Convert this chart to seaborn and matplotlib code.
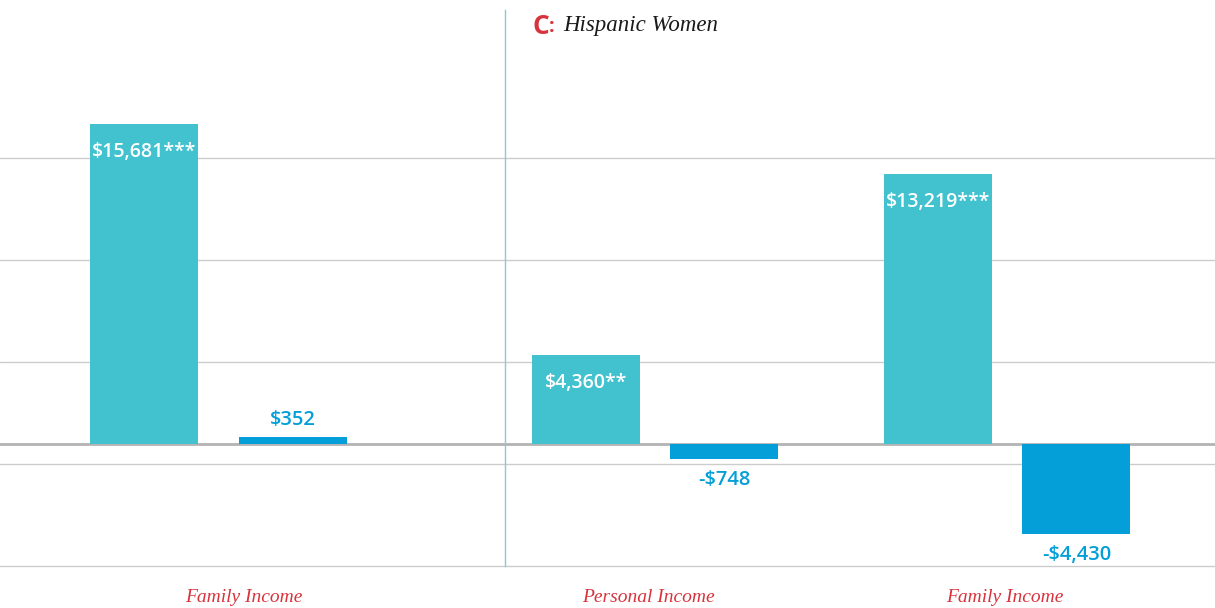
import numpy as np
import matplotlib
matplotlib.use("Agg")
import matplotlib.pyplot as plt
import matplotlib.transforms as mtrans
import pandas as pd
import seaborn as sns

# data
left_categories = ["Family Income"]
right_categories = ["Personal Income", "Family Income"]
series = ["first", "second"]
left_values = [[15681, 352]]
right_values = [[4360, -748], [13219, -4430]]
left_labels = [["$15,681***", "$352"]]
right_labels = [["$4,360**", "-$748"], ["$13,219***", "-$4,430"]]
grid_values = [-6000, -1000, 4000, 9000, 14000]

TEAL = "#42c2ce"
BLUE = "#049fd8"
RED = "#d8333c"
palette = {"first": TEAL, "second": BLUE}


def to_frame(categories, values):
    rows = []
    for cat, vals in zip(categories, values):
        for s, v in zip(series, vals):
            rows.append({"category": cat, "series": s, "value": v})
    return pd.DataFrame(rows)


def draw_panel(ax, categories, values, labels, xlim, width, gap, label_shift):
    df = to_frame(categories, values)
    ax.set_axisbelow(True)
    ax.set_yticks(grid_values)
    ax.yaxis.grid(True, color="#cccccc", lw=1)
    ax.xaxis.grid(False)
    ax.axhline(0, color="#b3b3b3", lw=2, zorder=0.5)
    sns.barplot(data=df, x="category", y="value", hue="series", order=categories,
                hue_order=series, palette=palette, width=width, gap=gap,
                saturation=1, legend=False, ax=ax, zorder=2, linewidth=0)
    for si, cont in enumerate(ax.containers):
        for ci, bar in enumerate(cont):
            v = values[ci][si]
            txt = labels[ci][si]
            xc = bar.get_x() + bar.get_width() / 2
            if si == 0:
                ax.annotate(txt, (xc, v), xytext=(0, -20), textcoords="offset points",
                            ha="center", va="center", color="white", fontsize=14,
                            fontweight="semibold", family="Open Sans", zorder=3)
            elif v >= 0:
                ax.annotate(txt, (xc, v), xytext=(0, 5), textcoords="offset points",
                            ha="center", va="bottom", color=BLUE, fontsize=14.5,
                            fontweight="semibold", family="Open Sans", zorder=3)
            else:
                ax.annotate(txt, (xc, v), xytext=(0, -8), textcoords="offset points",
                            ha="center", va="top", color=BLUE, fontsize=14.5,
                            fontweight="semibold", family="Open Sans", zorder=3)
    ax.set_xlim(*xlim)
    ax.set_ylim(-6176, 21275)
    ax.set_xlabel("")
    ax.set_ylabel("")
    ax.set_yticklabels([])
    ax.tick_params(axis="both", length=0)
    ax.tick_params(axis="x", pad=14)
    for lab, dx in zip(ax.get_xticklabels(), label_shift):
        lab.set_color(RED)
        lab.set_fontstyle("italic")
        lab.set_family("Liberation Serif")
        lab.set_fontsize(14)
        lab.set_transform(lab.get_transform() +
                          mtrans.ScaledTranslation(dx / 100, 0, fig.dpi_scale_trans))
    for sp in ax.spines.values():
        sp.set_visible(False)


sns.set_theme(style="white")
fig = plt.figure(figsize=(12.15, 6.08), dpi=100)
bottom = (608 - 570) / 608
height = 560 / 608
ax_left = fig.add_axes([0, bottom, 505 / 1215, height])
ax_right = fig.add_axes([505 / 1215, bottom, 710 / 1215, height])

draw_panel(ax_left, left_categories, left_values, left_labels, (-0.62, 0.813),
           0.845, 0.275, [25])
draw_panel(ax_right, right_categories, right_values, right_labels, (-0.4255, 1.589),
           0.783, 0.217, [-7, -3])

ax_right.spines["left"].set_visible(True)
ax_right.spines["left"].set_color("#86cbd6")
ax_right.spines["left"].set_linewidth(1)
ax_right.spines["left"].set_bounds(-6000, 21275)

fig.text(532 / 1215, 1 - 26 / 608, "C", color=RED, fontsize=19, fontweight="bold",
         family="Open Sans", ha="left", va="center")
fig.text(549 / 1215, 1 - 27 / 608, ":", color=RED, fontsize=14, fontweight="bold",
         family="Open Sans", ha="left", va="center")
fig.text(563 / 1215, 1 - 25 / 608, "Hispanic Women", color="#1a1a1a", fontsize=16.5,
         fontstyle="italic", family="Liberation Serif", ha="left", va="center")

fig.savefig("out.png", dpi=100)
